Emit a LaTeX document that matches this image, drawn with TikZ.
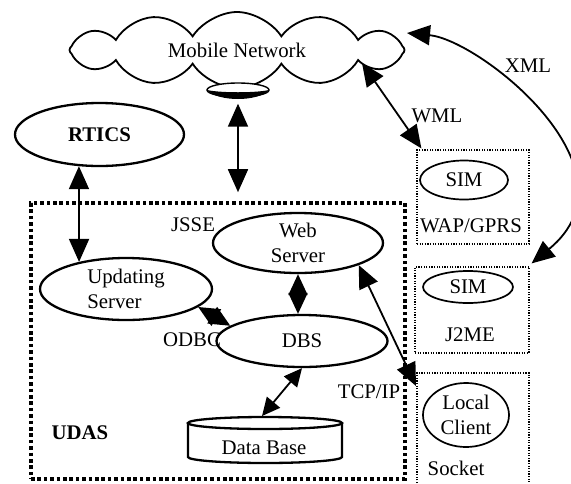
\documentclass[tikz,border=0pt]{standalone}
\usepackage{fontspec}
\setmainfont{Liberation Serif}
\usetikzlibrary{shapes.geometric,shapes.symbols,arrows.meta,calc}
\newcommand\dfont{\fontsize{20.8}{25}\selectfont}
\begin{document}
\begin{tikzpicture}[x=1pt,y=-1pt,font=\dfont,
  ell/.style={ellipse,draw,line width=2.3pt,inner sep=0pt},
  sell/.style={ellipse,draw,line width=1.7pt,inner sep=0pt},
  dbl/.style={{Triangle[length=23pt,width=20pt]}-{Triangle[length=23pt,width=20pt]},line width=1.8pt},
  dblm/.style={{Triangle[length=21pt,width=19pt]}-{Triangle[length=21pt,width=19pt]},line width=1.8pt},
  dbls/.style={{Triangle[length=18pt,width=17pt]}-{Triangle[length=18pt,width=17pt]},line width=1.8pt},
  thinbox/.style={draw,line width=1.2pt,dash pattern=on 1.2pt off 1.4pt,inner sep=0pt},
  udasbox/.style={draw,line width=3.6pt,dash pattern=on 3.6pt off 2.8pt,inner sep=0pt},
  lbl/.style={inner sep=0pt}]
\useasboundingbox (0,0) rectangle (571,483);
\fill[white] (0,0) rectangle (571,483);

% cloud
\node[cloud,draw,line width=1.8pt,cloud puffs=12,cloud puff arc=115,cloud ignores aspect,
      minimum width=335pt,minimum height=76pt,inner sep=0pt] (net) at (237,50) {Mobile Network};
\node[ellipse,draw,fill=white,line width=1.4pt,minimum width=62pt,minimum height=14pt,inner sep=0pt] (lens) at (238,90) {};
\fill (207,90) .. controls (218,102) and (258,102) .. (269,90) .. controls (256,93) and (220,93) .. (207,90) -- cycle;

% UDAS box
\node[udasbox,minimum width=374pt,minimum height=276pt] (udas) at (218,341) {};
\node[lbl,font=\dfont\bfseries] (udaslbl) at (80,433) {UDAS};

% main ellipses
\node[ell,minimum width=169pt,minimum height=63pt,font=\dfont\bfseries] (rtics) at (99.5,134.5) {RTICS};
\node[ell,minimum width=172pt,minimum height=62pt,align=left] (upd) at (126,289) {Updating\\Server};
\node[ell,minimum width=170pt,minimum height=60pt,align=center] (web) at (298,243) {Web\\Server};
\node[ell,minimum width=171pt,minimum height=52pt] (dbs) at (302,341) {DBS};

% data base cylinder
\node[lbl] (db) at (264,448) {Data Base};
\draw[line width=2.3pt] (188,423) -- (188,457) arc[start angle=180,end angle=0,x radius=77,y radius=6] -- (342,423);
\draw[line width=2.3pt] (265,423) ellipse[x radius=77,y radius=6];
\coordinate (dbtop) at (262,416);

% labels
\node[lbl] (jsse) at (193,225) {JSSE};
\node[lbl] (odbc) at (192,340) {ODBC};
\node[lbl] (tcp) at (369,392) {TCP/IP};
\node[lbl] (wml) at (437,116) {WML};
\node[lbl] (xml) at (528,66) {XML};

% right side boxes
\node[thinbox,minimum width=112pt,minimum height=94pt] (wap) at (473,197) {};
\node[sell,minimum width=88pt,minimum height=39pt] (sim1) at (464,180) {SIM};
\node[lbl] (waplbl) at (471,226) {WAP/GPRS};

\node[thinbox,minimum width=114pt,minimum height=86pt] (j2me) at (472,310) {};
\node[sell,minimum width=90pt,minimum height=32pt] (sim2) at (468,287) {SIM};
\node[lbl] (j2melbl) at (470,335) {J2ME};

\draw[line width=1.2pt,dash pattern=on 1.2pt off 1.4pt] (417,483) -- (417,373) -- (529,373) -- (529,483);
\node[sell,minimum width=86pt,minimum height=64pt,align=center] (local) at (466,415) {Local\\Client};
\node[lbl] (socklbl) at (456,468) {Socket};
\coordinate (sockA) at (416,386);

% connectors
\coordinate (wmlA) at (362,63);
\coordinate (xmlA) at (407,33);
\draw[dbl,shorten <=6pt,shorten >=9pt] (lens.south) -- (lens.south |- udas.north);
\draw[dbl] (rtics.237.7) -- (upd.150.5);
\draw[dblm] (web.south) -- (web.south |- dbs.north);
\draw[dblm] (upd.-14) -- (dbs.168);
\draw[dbls] (dbs.south) -- (dbtop);
\draw[dbl] (web.-20) -- (sockA);
\draw[dbl] (wmlA) -- ($(wap.north west)+(5,-1)$);
\draw[dbl] (xmlA) .. controls (480,40) and (645,170) .. ($(j2me.north east)+(2,-3)$);
\end{tikzpicture}
\end{document}
